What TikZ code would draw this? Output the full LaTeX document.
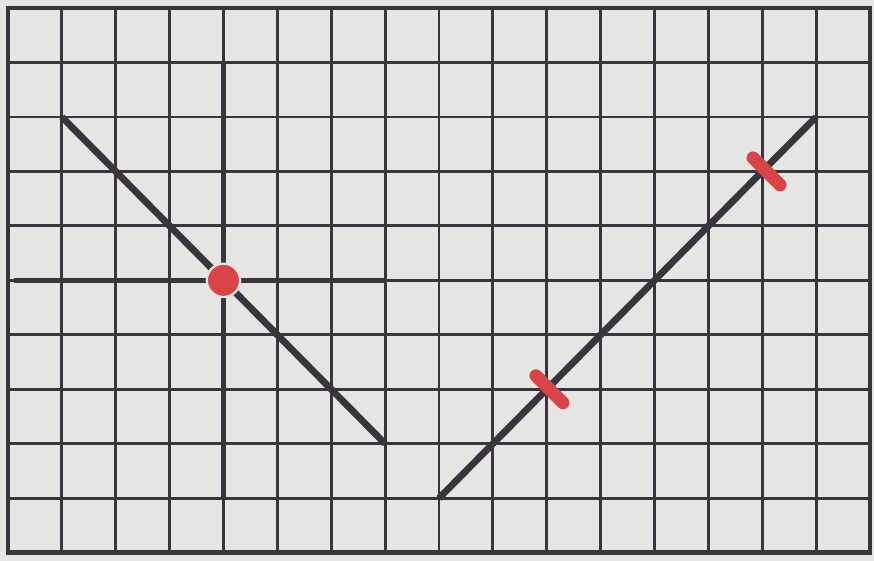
\documentclass[tikz,border=0pt]{standalone}
\usepackage{tikz}
\definecolor{paper}{RGB}{229,229,227}
\definecolor{ink}{RGB}{58,52,62}
\definecolor{pen}{RGB}{217,68,72}
\tikzset{gridline/.style = {draw = ink, line width = 1.5pt}}
\tikzset{frame/.style = {draw = ink, line width = 2.6pt}}
\tikzset{axis/.style = {draw = ink, line width = 3pt}}
\tikzset{graphline/.style = {draw = ink, line width = 3.6pt}}
\tikzset{reddot/.style = {shape = circle, fill = pen, draw = paper, line width = 1.2pt, minimum size = 0.62cm, inner sep = 0pt}}
\tikzset{redbar/.style = {shape = rectangle, fill = pen, rounded corners = 0.12cm, minimum width = 0.95cm, minimum height = 0.24cm, inner sep = 0pt, rotate = -45}}

\begin{document}
\begin{tikzpicture}[y = 1.011cm]
			\fill[paper] (-0.148, -0.147) rectangle (16.074, 10.147);
			\useasboundingbox (-0.148, -0.147) rectangle (16.074, 10.147);

			% squared paper
			\foreach \x in {1, ..., 15}
				\draw[gridline] (\x, 0) -- (\x, 10);
			\foreach \y in {1, ..., 9}
				\draw[gridline] (0, \y) -- (16, \y);
			\draw[frame] (0, 0) rectangle (16, 10);

			\coordinate (ytop) at (4, 9);
			\coordinate (ybot) at (4, 1);
			\coordinate (xleft) at (0.12, 5);
			\coordinate (xright) at (7, 5);
			\coordinate (fall) at (1, 8);
			\coordinate (fallend) at (7, 2);
			\coordinate (rise) at (8, 1);
			\coordinate (riseend) at (15, 8);

			\draw[axis] (ytop) -- (ybot);
			\draw[axis] (xleft) -- (xright);
			\draw[graphline] (fall) -- (fallend);
			\draw[graphline] (rise) -- (riseend);

			\node[reddot] (o) at (4, 5) {};
			\node[redbar] (p) at (10.05, 3) {};
			\node[redbar] (q) at (14.08, 7) {};
		\end{tikzpicture}
\end{document}
